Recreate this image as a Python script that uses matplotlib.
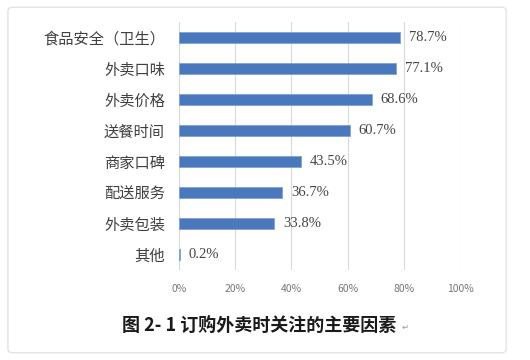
import matplotlib
matplotlib.use("Agg")
import matplotlib.pyplot as plt
from matplotlib.patches import FancyBboxPatch
import numpy as np

plt.rcParams['font.family'] = ['Noto Sans CJK SC', 'DejaVu Sans']

categories = ['食品安全（卫生）', '外卖口味', '外卖价格', '送餐时间', '商家口碑', '配送服务', '外卖包装', '其他']
values = [78.7, 77.1, 68.6, 60.7, 43.5, 36.7, 33.8, 0.2]
xticks = [0, 20, 40, 60, 80, 100]
caption = '图 2- 1 订购外卖时关注的主要因素'

fig = plt.figure(figsize=(5.3, 3.6), dpi=100)
ax = fig.add_axes([0.3377, 0.25, 0.5302, 0.689])

# rounded frame around the whole picture
frame = FancyBboxPatch((0.015, 0.02), 0.94, 0.96, boxstyle="round,pad=0,rounding_size=0.01",
                       transform=fig.transFigure, facecolor='white', edgecolor='#e2e2e2', linewidth=1.0,
                       zorder=-10)
fig.patches.append(frame)

y = np.arange(len(categories))
ax.barh(y, values, height=0.38, color='#4a78bc', edgecolor='#7fa3d6', linewidth=0.6, zorder=3)

for yi, v in zip(y, values):
    ax.text(v + 3.2, yi, '%.1f%%' % v, va='center', ha='left', fontsize=10.5,
            family='Liberation Serif', color='#444444')

ax.set_xlim(0, 100)
ax.set_ylim(len(categories) - 0.5, -0.5)
ax.set_yticks(y)
ax.set_yticklabels(categories, fontsize=11, color='#404040')
ax.set_xticks(xticks)
ax.set_xticklabels(['%d%%' % t for t in xticks], fontsize=7.5, color='#777777')
ax.tick_params(axis='both', length=0)
ax.tick_params(axis='y', pad=10)
ax.tick_params(axis='x', pad=10)
ax.grid(axis='x', color='#d9d9d9', linewidth=0.8, zorder=0)
for s in ax.spines.values():
    s.set_visible(False)

fig.text(0.489, 0.097, caption, ha='center', va='center', fontsize=13, fontweight='bold', color='#1a1a1a')
fig.text(0.757, 0.09, '↵', ha='left', va='center', fontsize=6, color='#999999',
         family=['DejaVu Sans'])

fig.savefig('out.png', dpi=100)
